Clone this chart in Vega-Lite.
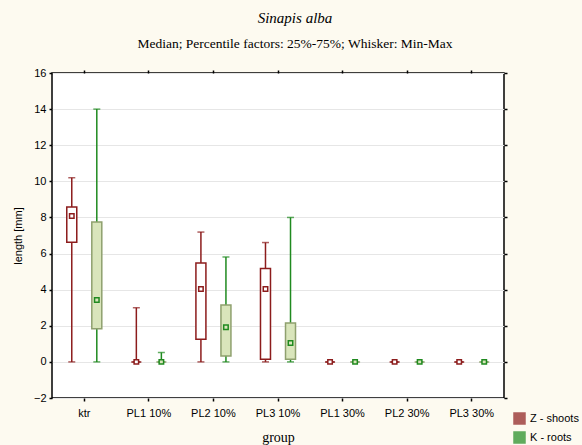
{
  "$schema": "https://vega.github.io/schema/vega-lite/v6.json",
  "width": 452,
  "height": 325,
  "padding": {"left": 12, "top": 10, "right": 4, "bottom": 0},
  "background": "#fdfaf0",
  "title": {
    "text": "Sinapis alba",
    "subtitle": "Median; Percentile factors: 25%-75%; Whisker: Min-Max",
    "font": "Liberation Serif",
    "fontStyle": "italic",
    "fontWeight": "normal",
    "fontSize": 15,
    "color": "#000000",
    "subtitleFont": "Liberation Serif",
    "subtitleFontSize": 13.5,
    "subtitleColor": "#000000",
    "subtitlePadding": 11,
    "anchor": "middle",
    "frame": "group",
    "dx": 17,
    "offset": 17
  },
  "config": {
    "view": {"fill": "white", "stroke": "#000000", "strokeWidth": 1.5},
    "axis": {
      "labelFont": "Liberation Sans",
      "labelFontSize": 11,
      "labelColor": "#000000",
      "domain": false,
      "tickColor": "#000000",
      "tickWidth": 1.5,
      "tickSize": 3,
      "labelOverlap": false
    },
    "legend": {"labelFont": "Liberation Sans", "labelFontSize": 11, "labelColor": "#000000"}
  },
  "data": {
    "values": [
      {"group": "ktr", "s": "Z - shoots", "min": 0, "q1": 6.62, "med": 8.08, "q3": 8.58, "max": 10.2},
      {"group": "ktr", "s": "K - roots", "min": 0, "q1": 1.83, "med": 3.43, "q3": 7.75, "max": 14.0},
      {"group": "PL1 10%", "s": "Z - shoots", "min": 0, "q1": 0, "med": 0, "q3": 0, "max": 3.0},
      {"group": "PL1 10%", "s": "K - roots", "min": 0, "q1": 0, "med": 0, "q3": 0, "max": 0.52},
      {"group": "PL2 10%", "s": "Z - shoots", "min": 0, "q1": 1.26, "med": 4.04, "q3": 5.48, "max": 7.19},
      {"group": "PL2 10%", "s": "K - roots", "min": 0, "q1": 0.33, "med": 1.92, "q3": 3.15, "max": 5.81},
      {"group": "PL3 10%", "s": "Z - shoots", "min": 0, "q1": 0.15, "med": 4.04, "q3": 5.17, "max": 6.61},
      {"group": "PL3 10%", "s": "K - roots", "min": 0, "q1": 0.15, "med": 1.05, "q3": 2.16, "max": 8.0},
      {"group": "PL1 30%", "s": "Z - shoots", "min": 0, "q1": 0, "med": 0, "q3": 0, "max": 0},
      {"group": "PL1 30%", "s": "K - roots", "min": 0, "q1": 0, "med": 0, "q3": 0, "max": 0},
      {"group": "PL2 30%", "s": "Z - shoots", "min": 0, "q1": 0, "med": 0, "q3": 0, "max": 0},
      {"group": "PL2 30%", "s": "K - roots", "min": 0, "q1": 0, "med": 0, "q3": 0, "max": 0},
      {"group": "PL3 30%", "s": "Z - shoots", "min": 0, "q1": 0, "med": 0, "q3": 0, "max": 0},
      {"group": "PL3 30%", "s": "K - roots", "min": 0, "q1": 0, "med": 0, "q3": 0, "max": 0}
    ]
  },
  "layer": [
    {
      "encoding": {
        "x": {
          "field": "group",
          "type": "nominal",
          "sort": null,
          "scale": {"paddingInner": 0, "paddingOuter": 0},
          "axis": {
            "orient": "bottom",
            "title": "group",
            "titleFont": "Liberation Serif",
            "titleFontSize": 14,
            "titleFontWeight": "normal",
            "titleColor": "#000000",
            "titlePadding": 12,
            "labelAngle": 0,
            "labelPadding": 6,
            "grid": false
          }
        },
        "xOffset": {
          "field": "s",
          "type": "nominal",
          "sort": ["Z - shoots", "K - roots"],
          "scale": {"paddingInner": 0, "paddingOuter": 0.29}
        }
      },
      "layer": [
        {
          "mark": {"type": "rule", "strokeWidth": 1.5},
          "encoding": {
            "y": {
              "field": "min",
              "type": "quantitative",
              "scale": {"domain": [-2, 16], "nice": false},
              "axis": null
            },
            "y2": {"field": "max"},
            "color": {
              "field": "s",
              "type": "nominal",
              "sort": ["Z - shoots", "K - roots"],
              "scale": {"domain": ["Z - shoots", "K - roots"], "range": ["#8c1c1c", "#1f8a1f"]},
              "legend": {
                "title": null,
                "orient": "none",
                "legendX": 461,
                "legendY": 339,
                "padding": 0,
                "symbolType": "square",
                "symbolSize": 100,
                "symbolStrokeWidth": 2.5,
                "rowPadding": -2,
                "labelOffset": 4
              }
            }
          }
        },
        {
          "mark": {"type": "tick", "orient": "horizontal", "size": 7, "thickness": 1.5},
          "encoding": {
            "y": {"field": "max", "type": "quantitative", "axis": null},
            "color": {"field": "s", "type": "nominal"}
          }
        },
        {
          "mark": {"type": "tick", "orient": "horizontal", "size": 7, "thickness": 1.5},
          "encoding": {
            "y": {"field": "min", "type": "quantitative", "axis": null},
            "color": {"field": "s", "type": "nominal"}
          }
        },
        {
          "mark": {"type": "bar", "width": 10, "strokeWidth": 1.5},
          "encoding": {
            "y": {"field": "q1", "type": "quantitative", "axis": null},
            "y2": {"field": "q3"},
            "fill": {
              "condition": {"test": "datum.s === 'Z - shoots'", "value": "#ffffff"},
              "value": "#d9e5bb"
            },
            "stroke": {
              "condition": {"test": "datum.s === 'Z - shoots'", "value": "#8c1c1c"},
              "value": "#8fa06e"
            }
          }
        },
        {
          "mark": {"type": "point", "shape": "square", "size": 20, "strokeWidth": 1.5, "filled": true, "opacity": 1},
          "encoding": {
            "y": {"field": "med", "type": "quantitative", "axis": null},
            "stroke": {
              "condition": {"test": "datum.s === 'Z - shoots'", "value": "#8c1c1c"},
              "value": "#1f8a1f"
            },
            "fill": {
              "condition": {"test": "datum.s === 'Z - shoots'", "value": "#ffffff"},
              "value": "#d9e5bb"
            }
          }
        }
      ]
    },
    {
      "mark": {"type": "rule", "opacity": 0},
      "encoding": {
        "x": {
          "field": "group",
          "type": "nominal",
          "sort": null,
          "scale": {"paddingInner": 0, "paddingOuter": 0},
          "axis": {"orient": "top", "labels": false, "title": null, "grid": false}
        },
        "y": {
          "field": "min",
          "type": "quantitative",
          "axis": {
            "orient": "left",
            "title": "length [mm]",
            "titleFont": "Liberation Sans",
            "titleFontSize": 11,
            "titleFontWeight": "normal",
            "titleColor": "#000000",
            "titlePadding": 10,
            "values": [-2, 0, 2, 4, 6, 8, 10, 12, 14, 16],
            "labelPadding": 3,
            "labelOverlap": false,
            "grid": true,
            "gridColor": "#e6e6e6",
            "gridWidth": 1
          }
        }
      }
    },
    {
      "mark": {"type": "rule", "opacity": 0},
      "encoding": {
        "x": {
          "field": "group",
          "type": "nominal",
          "sort": null,
          "axis": null
        },
        "y": {
          "field": "min",
          "type": "quantitative",
          "axis": {"orient": "right", "labels": false, "title": null, "grid": false, "values": [-2, 0, 2, 4, 6, 8, 10, 12, 14, 16]}
        }
      }
    }
  ],
  "resolve": {"axis": {"x": "independent", "y": "independent"}}
}
